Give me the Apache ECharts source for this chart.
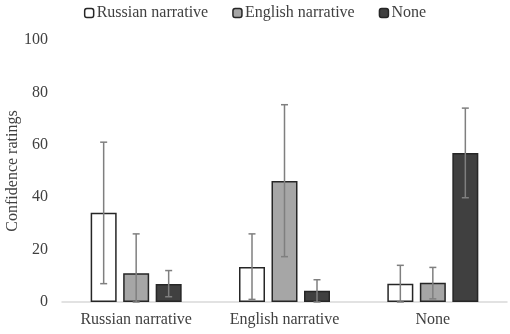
<!DOCTYPE html>
<html>
<head>
<meta charset="utf-8">
<script src="https://cdn.jsdelivr.net/npm/echarts@6/dist/echarts.min.js"></script>
<style>
    html, body { margin: 0; padding: 0; background: #fff; }
    #chart { width: 510px; height: 334px; }
</style>
</head>
<body>
<div id="chart"></div>
<script>
    var categories = ['Russian narrative', 'English narrative', 'None'];
    var seriesNames = ['Russian narrative', 'English narrative', 'None'];
    var russianVals = [34.1, 13.4, 7.0];
    var englishVals = [11.0, 46.2, 7.3];
    var noneVals = [6.9, 4.3, 56.9];
    // error bar ends [low, high]
    var russianErr = [[7, 61], [1, 26], [0, 14]];
    var englishErr = [[0, 26], [17.3, 75.3], [1.2, 13.2]];
    var noneErr = [[2, 12], [0, 8.5], [39.8, 74]];
    var yTicks = [0, 20, 40, 60, 80, 100];

    var fills = ['#ffffff', '#a6a6a6', '#404040'];
    var font = '"Liberation Serif", "DejaVu Serif", serif';
    var barW = 26;
    var gapPx = 6.5;

    function barSeries(name, vals, color) {
        return {
            name: name,
            type: 'bar',
            barWidth: barW,
            barGap: '25%',
            itemStyle: {
                color: color,
                borderColor: '#262626',
                borderWidth: 1.5
            },
            data: vals
        };
    }

    function errSeries(name, errs, idx) {
        return {
            name: name,
            type: 'custom',
            z: 5,
            renderItem: function (params, api) {
                var c = api.value(0);
                var lo = api.coord([c, api.value(1)]);
                var hi = api.coord([c, api.value(2)]);
                var x = lo[0] + (idx - 1) * (barW + gapPx);
                var cap = 3.5;
                var st = { stroke: '#7f7f7f', lineWidth: 1.5 };
                return {
                    type: 'group',
                    children: [
                        { type: 'line', shape: { x1: x, y1: hi[1], x2: x, y2: lo[1] }, style: st },
                        { type: 'line', shape: { x1: x - cap, y1: hi[1], x2: x + cap, y2: hi[1] }, style: st },
                        { type: 'line', shape: { x1: x - cap, y1: lo[1], x2: x + cap, y2: lo[1] }, style: st }
                    ]
                };
            },
            data: errs.map(function (e, i) { return [i, e[0], e[1]]; })
        };
    }

    var option = {
        animation: false,
        textStyle: { fontFamily: font },
        legend: {
            data: seriesNames,
            top: 0,
            left: 'center',
            itemWidth: 9,
            itemHeight: 9,
            itemGap: 24,
            textStyle: { fontFamily: font, fontSize: 16, color: '#404040', padding: [0, 0, 0, -2] },
            itemStyle: { borderColor: '#262626', borderWidth: 1.5 }
        },
        grid: { left: 62, right: 3, top: 40, bottom: 32, outerBoundsMode: 'none' },
        xAxis: {
            type: 'category',
            data: categories,
            axisLine: { lineStyle: { color: '#d9d9d9', width: 1.5 } },
            axisTick: { show: false },
            axisLabel: { fontFamily: font, fontSize: 16, color: '#404040', margin: 10 }
        },
        yAxis: {
            type: 'value',
            min: yTicks[0],
            max: yTicks[yTicks.length - 1],
            interval: 20,
            name: 'Confidence ratings',
            nameLocation: 'middle',
            nameGap: 41,
            nameMoveOverlap: false,
            nameTextStyle: { fontFamily: font, fontSize: 16, color: '#404040' },
            axisLine: { show: false },
            axisTick: { show: false },
            splitLine: { show: false },
            axisLabel: { fontFamily: font, fontSize: 16, color: '#404040', margin: 14 }
        },
        series: [
            barSeries(seriesNames[0], russianVals, fills[0]),
            barSeries(seriesNames[1], englishVals, fills[1]),
            barSeries(seriesNames[2], noneVals, fills[2]),
            errSeries(seriesNames[0], russianErr, 0),
            errSeries(seriesNames[1], englishErr, 1),
            errSeries(seriesNames[2], noneErr, 2)
        ]
    };

    var chart = echarts.init(document.getElementById('chart'));
    chart.setOption(option);
</script>
</body>
</html>
